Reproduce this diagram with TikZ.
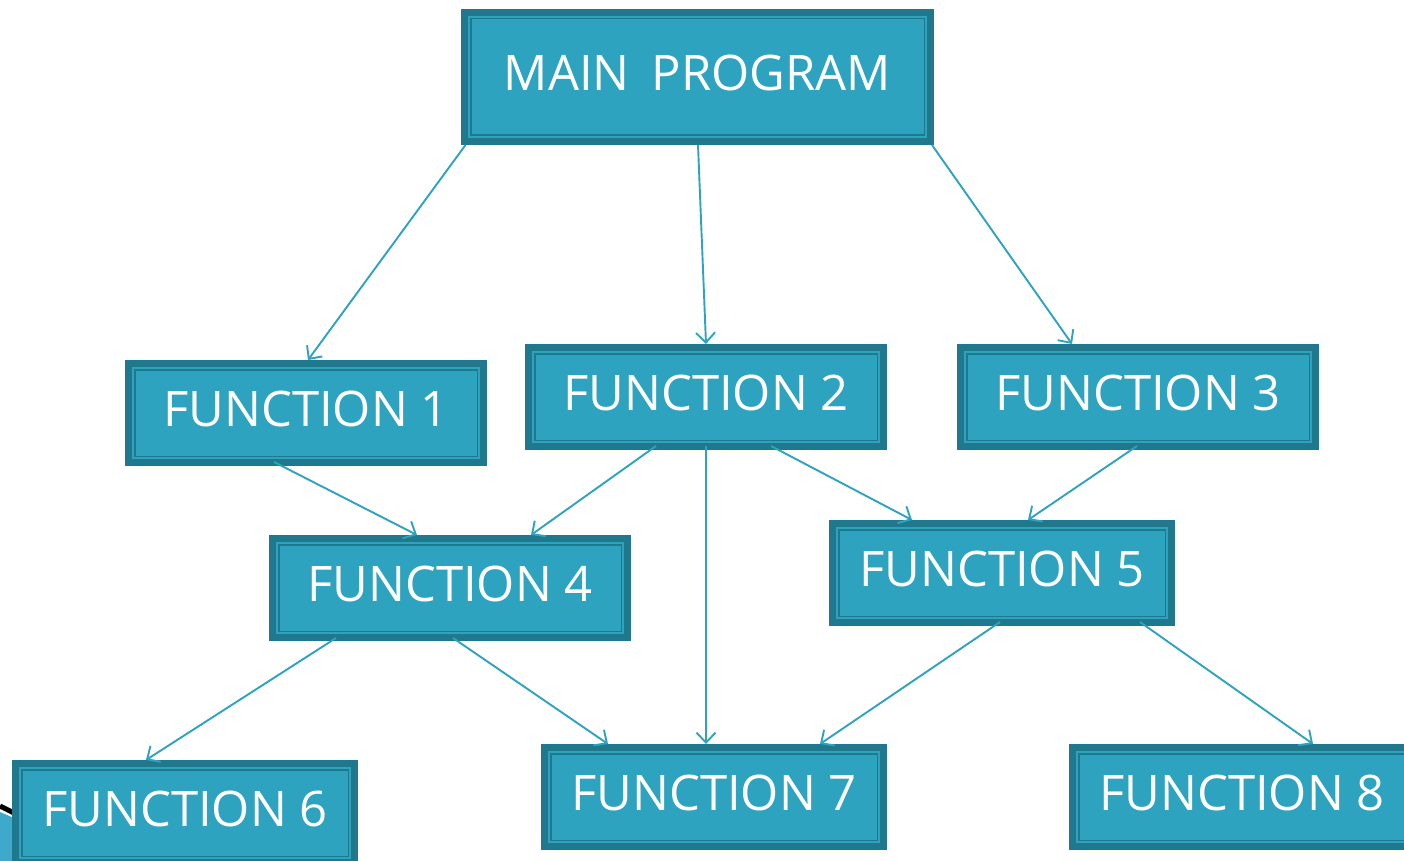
\documentclass[tikz,border=0pt]{standalone}
\usepackage{fontspec}
\setmainfont{Open Sans}
\usetikzlibrary{arrows.meta,calc}
\definecolor{boxdark}{HTML}{1F788C}
\definecolor{boxfill}{HTML}{2DA3C0}
\definecolor{linkc}{HTML}{2EA3C0}
\definecolor{decoblue}{HTML}{3FA9CC}
\tikzset{
  fbox/.style={fill=boxfill, draw=boxdark, line width=1.5pt, double=boxfill, double distance=2pt,
    preaction={draw=boxdark, line width=16pt},
    inner sep=0pt, outer sep=8pt, text=white, text depth=8pt,
    font=\fontsize{49}{50}\selectfont},
  link/.style={draw=linkc, line width=1.9pt, -{Straight Barb[length=10pt,width=19pt,line width=1.9pt]}}
}
\begin{document}
\begin{tikzpicture}[x=1pt,y=-1pt]
\useasboundingbox (0,0) rectangle (1404,861);
\clip (0,0) rectangle (1404,861);
\fill[white] (0,0) rectangle (1404,861);
% corner decoration
\fill[decoblue] (0,812) -- (14,818) -- (14,861) -- (0,861) -- cycle;
\draw[black, line width=5pt] (0,806) -- (14,813);
% boxes
\node[fbox, minimum width=457pt, minimum height=120pt] (main) at (697.5,77) {MAIN\hspace{0.45em}PROGRAM};
\node[fbox, minimum width=346pt, minimum height=90pt] (f1) at (306,413) {FUNCTION 1};
\node[fbox, minimum width=346pt, minimum height=90pt] (f2) at (706,397) {FUNCTION 2};
\node[fbox, minimum width=346pt, minimum height=90pt] (f3) at (1138,397) {FUNCTION 3};
\node[fbox, minimum width=346pt, minimum height=90pt] (f4) at (450,588) {FUNCTION 4};
\node[fbox, minimum width=330pt, minimum height=90pt] (f5) at (1002,573) {FUNCTION 5};
\node[fbox, minimum width=330pt, minimum height=90pt] (f6) at (185,813) {FUNCTION 6};
\node[fbox, minimum width=330pt, minimum height=90pt] (f7) at (714,797) {FUNCTION 7};
\node[fbox, minimum width=330pt, minimum height=90pt] (f8) at (1242,797) {FUNCTION 8};
% connectors
\draw[link] ($(main.south)+(-232,0)$) -- ($(f1.north)+(2,0)$);
\draw[link] ($(main.south)+(0.5,0)$) -- ($(f2.north)+(0,0)$);
\draw[link] ($(main.south)+(234.5,0)$) -- ($(f3.north)+(-66,0)$);
\draw[link] ($(f1.south)+(-32,-4)$) -- ($(f4.north)+(-33,0)$);
\draw[link] ($(f2.south)+(-50,-4)$) -- ($(f4.north)+(81,0)$);
\draw[link] ($(f2.south)+(0,-4)$) -- ($(f7.north)+(-8,0)$);
\draw[link] ($(f2.south)+(65,-4)$) -- ($(f5.north)+(-90,0)$);
\draw[link] ($(f3.south)+(-1,-4)$) -- ($(f5.north)+(26,0)$);
\draw[link] ($(f4.south)+(-114,-3)$) -- ($(f6.north)+(-39,0)$);
\draw[link] ($(f4.south)+(3,-3)$) -- ($(f7.north)+(-106,0)$);
\draw[link] ($(f5.south)+(-2,-4)$) -- ($(f7.north)+(106,0)$);
\draw[link] ($(f5.south)+(138,-4)$) -- ($(f8.north)+(71,0)$);
\end{tikzpicture}
\end{document}
